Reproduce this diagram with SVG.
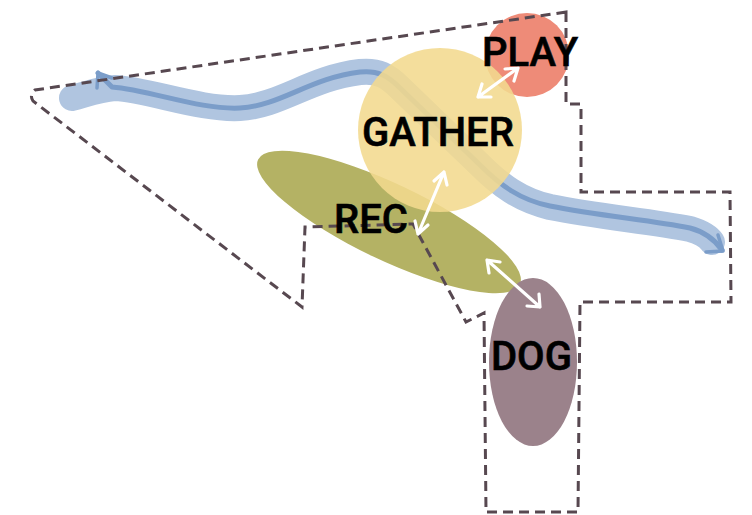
<svg xmlns="http://www.w3.org/2000/svg" width="752" height="515" viewBox="0 0 752 515">
<style>
.lbl{font-family:Roboto,"Liberation Sans",sans-serif;font-weight:500;font-size:40px;fill:#000;stroke:#000;stroke-width:0.6}
.arr{fill:none;stroke:#fff;stroke-width:3.2;stroke-linecap:round;stroke-linejoin:round}
.bound{fill:none;stroke:#574850;stroke-width:3;stroke-dasharray:10 6}
</style>
<rect width="752" height="515" fill="#fff"/>
<g id="river">
<path d="M72,98 C 90,93 100,89 115,88 C 150,90 200,110 240,108 C 280,106 310,78 360,72 C 378,70 388,76 400,88 L 480,165 C 500,185 520,200 550,207 C 600,217 650,221 690,229 C 700,232 708,236 712,242" fill="none" stroke="#b0c5e0" stroke-width="26" stroke-linecap="round" stroke-linejoin="round"/>
<path d="M98,73 L112,87 C 150,90 200,110 240,108 C 280,106 310,78 360,72 C 378,70 388,76 400,88 L 480,165 C 500,185 520,200 550,206 C 600,216 650,220 690,228 C 705,232 715,240 722,250" fill="none" stroke="#7b9dc9" stroke-width="5" stroke-linecap="round" stroke-linejoin="round"/>
<path d="M97,88 L98,73 L112,78" fill="none" stroke="#7b9dc9" stroke-width="3.5" stroke-linecap="round" stroke-linejoin="round"/>
<path d="M718,235 L723,251 L706,252" fill="none" stroke="#7b9dc9" stroke-width="3.5" stroke-linecap="round" stroke-linejoin="round"/>
</g>
<g id="rec-shape"><ellipse cx="389" cy="222" rx="145" ry="38" transform="rotate(25.5 389 222)" fill="#b4b264"/></g>
<g id="play-shape"><circle cx="527" cy="55" r="42" fill="#ee8b78"/></g>
<g id="gather-shape"><circle cx="440" cy="130" r="82" fill="#f2d98e" fill-opacity="0.88"/></g>
<g id="dog-shape"><ellipse cx="533" cy="362" rx="44" ry="84" fill="#9b828b"/></g>
<g id="boundary">
<path class="bound" d="M566,12 L566,104 L581,104 L581,192 L730,192 L731,302 L580,302 L578,512 L486,512 L484,313 L466,322 L413,224 L305,227 L302,307 L33,101 Q29,95 35,90 Z"/>
</g>
<g id="connectors">
<path class="arr" d="M478,97 L518,68 M505,69 L518,68 L514,81 M478,97 L491,97 M478,97 L482,84"/>
<path class="arr" d="M444,172 L418,234 M434,181 L444,172 L447,185 M418,234 L415,221 M418,234 L428,225"/>
<path class="arr" d="M487,260 L540,307 M487,260 L500,262 M487,260 L489,273 M540,307 L527,306 M540,307 L539,294"/>
</g>
<g id="play"><text class="lbl" x="482" y="66">PLAY</text></g>
<g id="gather"><text class="lbl" x="362" y="146">GATHER</text></g>
<g id="rec"><text class="lbl" x="334" y="233">REC</text></g>
<g id="dog"><text class="lbl" x="491" y="370">DOG</text></g>
</svg>
